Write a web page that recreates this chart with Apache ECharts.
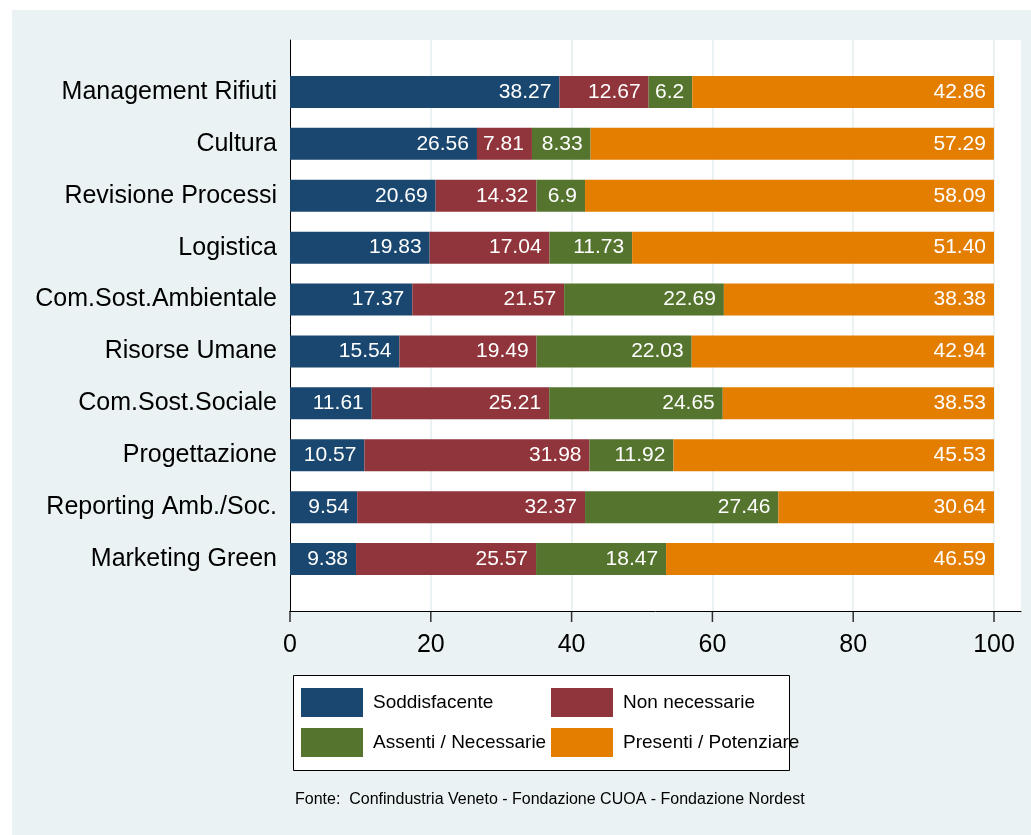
<!DOCTYPE html>
<html>
<head>
<meta charset="utf-8">
<script src="https://cdn.jsdelivr.net/npm/echarts@6/dist/echarts.min.js"></script>
<style>
  html, body { margin: 0; padding: 0; background: #fff; }
  #chart { width: 1031px; height: 835px; }
</style>
</head>
<body>
<div id="chart"></div>
<script>
// categorie (dall'alto verso il basso)
const categories = [
  "Management Rifiuti", "Cultura", "Revisione Processi", "Logistica",
  "Com.Sost.Ambientale", "Risorse Umane", "Com.Sost.Sociale",
  "Progettazione", "Reporting Amb./Soc.", "Marketing Green"
];
const soddisfacente = [38.27, 26.56, 20.69, 19.83, 17.37, 15.54, 11.61, 10.57, 9.54, 9.38];
const nonNecessarie = [12.67, 7.81, 14.32, 17.04, 21.57, 19.49, 25.21, 31.98, 32.37, 25.57];
const assentiNecessarie = [6.2, 8.33, 6.9, 11.73, 22.69, 22.03, 24.65, 11.92, 27.46, 18.47];
const presentiPotenziare = [42.86, 57.29, 58.09, 51.40, 38.38, 42.94, 38.53, 45.53, 30.64, 46.59];
const seriesNames = ["Soddisfacente", "Non necessarie", "Assenti / Necessarie", "Presenti / Potenziare"];
const xTicks = [0, 20, 40, 60, 80, 100];
const colors = ["#1a476f", "#90353b", "#55752f", "#e37e00"];
const fonte = "Fonte:  Confindustria Veneto - Fondazione CUOA - Fondazione Nordest";

const FONT = '"Liberation Sans", Arial, sans-serif';
const chart = echarts.init(document.getElementById("chart"));

const makeSeries = (name, data, i) => ({
  name,
  type: "bar",
  stack: "tot",
  xAxisIndex: 2,
  yAxisIndex: 2,
  barWidth: 32,
  itemStyle: { color: colors[i] },
  label: {
    show: true,
    position: "insideRight",
    distance: 8,
    color: "#fff",
    fontSize: 21,
    fontFamily: FONT,
    formatter: p => (p.value >= 10 ? p.value.toFixed(2) : String(p.value))
  },
  data
});

// legenda su due colonne
const legendCol = (names, left) => ({
  data: names,
  left,
  top: 688,
  orient: "vertical",
  padding: 0,
  itemGap: 11,
  itemWidth: 62,
  itemHeight: 29,
  icon: "rect",
  selectedMode: false,
  textStyle: { fontSize: 19, color: "#000", padding: [0, 0, 0, 5], fontFamily: FONT }
});

chart.setOption({
  backgroundColor: "#eaf2f3",
  textStyle: { fontFamily: FONT },
  graphic: [
    // margini bianchi esterni
    { type: "rect", left: 0, top: 0, shape: { width: 1031, height: 10 }, style: { fill: "#fff" } },
    { type: "rect", left: 0, top: 0, shape: { width: 12, height: 835 }, style: { fill: "#fff" } },
    // riquadro legenda
    { type: "rect", left: 293, top: 675, shape: { width: 496, height: 95 },
      style: { fill: "#fff", stroke: "#000", lineWidth: 1 } }
  ],
  title: {
    text: fonte,
    left: 290,
    top: 787,
    textStyle: { fontSize: 16, fontWeight: "normal", color: "#000", fontFamily: FONT }
  },
  legend: [
    legendCol([seriesNames[0], seriesNames[2]], 301),
    legendCol([seriesNames[1], seriesNames[3]], 551)
  ],
  grid: [
    // area del grafico (sfondo bianco + assi)
    { left: 290, right: 10, top: 40, bottom: 224, show: true, backgroundColor: "#fff", borderWidth: 0 },
    // scala 0-100 con griglia e etichette
    { left: 290, right: 37, top: 40, bottom: 224 },
    // barre
    { left: 290, right: 37, top: 66, bottom: 250 }
  ],
  xAxis: [
    {
      gridIndex: 0, type: "value", min: 0, max: 1,
      axisLine: { show: true, onZero: false, lineStyle: { color: "#000", width: 1 } },
      axisTick: { show: false }, axisLabel: { show: false }, splitLine: { show: false }
    },
    {
      gridIndex: 1, type: "value", min: 0, max: 100, interval: 20,
      axisLine: { show: false },
      axisTick: { show: false },
      axisLabel: { fontSize: 25, color: "#000", margin: 22, fontFamily: FONT },
      splitLine: { show: true, lineStyle: { color: "#eaf2f3", width: 2 } }
    },
    { gridIndex: 2, type: "value", min: 0, max: 100, show: false }
  ],
  yAxis: [
    {
      gridIndex: 0, type: "value", min: 0, max: 1,
      axisLine: { show: true, onZero: false, lineStyle: { color: "#000", width: 1 } },
      axisTick: { show: false }, axisLabel: { show: false }, splitLine: { show: false }
    },
    { gridIndex: 1, type: "value", min: 0, max: 1, show: false },
    {
      gridIndex: 2, type: "category", data: categories, inverse: true,
      axisLine: { show: false }, axisTick: { show: false },
      axisLabel: { fontSize: 25, color: "#000", margin: 13, fontFamily: FONT }
    }
  ],
  series: [
    makeSeries(seriesNames[0], soddisfacente, 0),
    makeSeries(seriesNames[1], nonNecessarie, 1),
    makeSeries(seriesNames[2], assentiNecessarie, 2),
    makeSeries(seriesNames[3], presentiPotenziare, 3),
    // tacche dell'asse x (sotto la linea), posizionate dalla scala
    {
      type: "scatter",
      xAxisIndex: 1,
      yAxisIndex: 1,
      symbol: "rect",
      symbolSize: [1.5, 11],
      symbolOffset: [0, 5.5],
      clip: false,
      silent: true,
      itemStyle: { color: "#000" },
      data: xTicks.map(v => [v, 0])
    }
  ]
});
</script>
</body>
</html>
